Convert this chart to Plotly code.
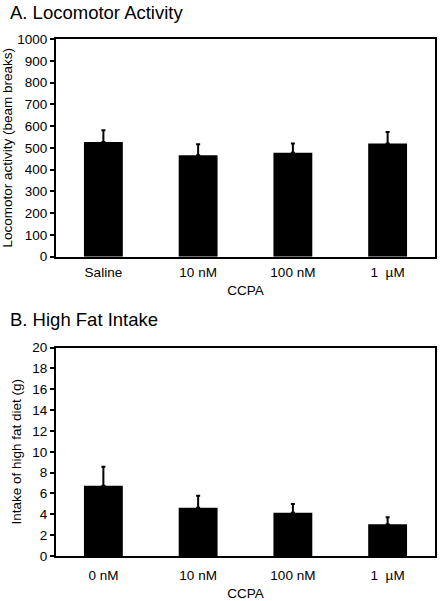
import plotly.graph_objects as go

cats_a = ["Saline", "10 nM", "100 nM", "1  µM"]
vals_a = [527, 466, 477, 520]
err_a = [54, 51, 43, 53]

cats_b = ["0 nM", "10 nM", "100 nM", "1  µM"]
vals_b = [6.75, 4.64, 4.16, 3.04]
err_b = [1.82, 1.15, 0.83, 0.68]

FONT = "Liberation Sans, Arial, Helvetica, sans-serif"

fig = go.Figure()
fig.add_trace(go.Bar(x=cats_a, y=vals_a, marker=dict(color="black", line=dict(width=0)),
                     error_y=dict(type="data", array=err_a, arrayminus=[0]*4, symmetric=False,
                                  color="black", thickness=2, width=2),
                     xaxis="x", yaxis="y", showlegend=False))
fig.add_trace(go.Bar(x=cats_b, y=vals_b, marker=dict(color="black", line=dict(width=0)),
                     error_y=dict(type="data", array=err_b, arrayminus=[0]*4, symmetric=False,
                                  color="black", thickness=2, width=2),
                     xaxis="x2", yaxis="y2", showlegend=False))

axis_common = dict(showline=True, linecolor="black", linewidth=2, mirror=True, automargin=False,
                   showgrid=False, zeroline=False, tickfont=dict(size=13.5, color="black", family=FONT))

fig.update_layout(
    width=441, height=601,
    margin=dict(l=56, r=6, t=39, b=45),
    paper_bgcolor="white", plot_bgcolor="white",
    bargap=0.59,
    font=dict(family=FONT, color="black", size=13.5),
    xaxis=dict(domain=[0, 1], anchor="y", ticks="", ticklabelstandoff=2, **axis_common,
               title=dict(text="CCPA", font=dict(size=13.5), standoff=7)),
    yaxis=dict(domain=[0.579, 1], anchor="x", range=[0, 1000], dtick=100,
               ticks="outside", ticklen=4, tickwidth=1.5, tickcolor="black", **axis_common,
               title=dict(text="Locomotor activity (beam breaks)", font=dict(size=13.5), standoff=4)),
    xaxis2=dict(domain=[0, 1], anchor="y2", ticks="", ticklabelstandoff=6, **axis_common,
                title=dict(text="CCPA", font=dict(size=13.5), standoff=7)),
    yaxis2=dict(domain=[0, 0.403], anchor="x2", range=[0, 20], dtick=2,
                ticks="outside", ticklen=4, tickwidth=1.5, tickcolor="black", **axis_common,
                title=dict(text="Intake of high fat diet (g)", font=dict(size=13.5), standoff=8)),
    annotations=[
        dict(text="A. Locomotor Activity", xref="paper", yref="paper", x=-0.127, y=1.0503,
             xanchor="left", yanchor="middle", showarrow=False, font=dict(size=18.5, color="black")),
        dict(text="B. High Fat Intake", xref="paper", yref="paper", x=-0.127, y=0.4565,
             xanchor="left", yanchor="middle", showarrow=False, font=dict(size=18.5, color="black")),
    ],
)

# remove the browser's default 8px page margin so the figure fills the window
fig.write_html("out.html", config={"displayModeBar": False},
               post_script="document.body.style.margin='0px';")
